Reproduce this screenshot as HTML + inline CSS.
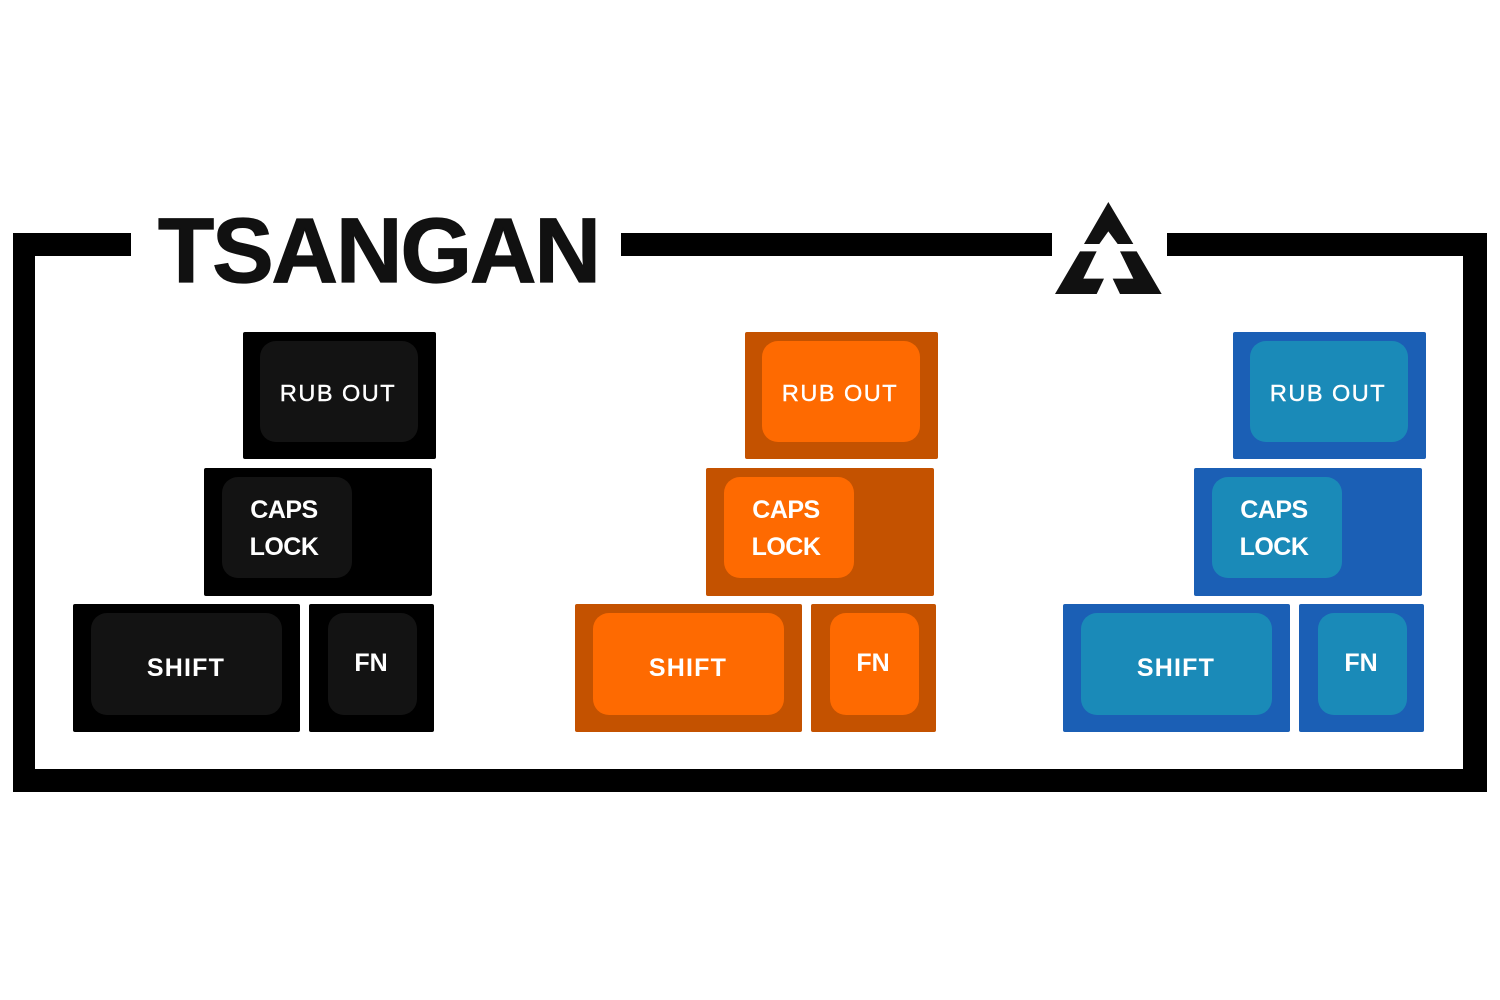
<!DOCTYPE html>
<html>
<head>
<meta charset="utf-8">
<style>
  html, body { margin:0; padding:0; }
  body { width:1500px; height:1000px; background:#fff; position:relative; overflow:hidden; font-family:"Liberation Sans", sans-serif; }
  .bar { position:absolute; background:#000; }
  .col { position:absolute; top:0; width:1500px; height:1000px; }
  .o { position:absolute; border-radius:2px; }
  .i { position:absolute; border-radius:16px; }
  .t { position:absolute; width:240px; text-align:center; color:#fff; white-space:nowrap; line-height:1; }
  .ro { -webkit-text-stroke:0.4px #fff; }
  .k .o { background:#000; }
  .k .i { background:#131313; }
  .r .o { background:#C45200; }
  .r .i { background:#FE6A01; }
  .b .o { background:#1B5FB5; }
  .b .i { background:#1A8AB8; }
</style>
</head>
<body>
  <!-- frame -->
  <div class="bar" style="left:13px;top:233px;width:118px;height:23px;"></div>
  <div class="bar" style="left:621px;top:233px;width:431px;height:23px;"></div>
  <div class="bar" style="left:1167px;top:233px;width:320px;height:23px;"></div>
  <div class="bar" style="left:13px;top:233px;width:22px;height:559px;"></div>
  <div class="bar" style="left:1463px;top:233px;width:24px;height:559px;"></div>
  <div class="bar" style="left:13px;top:769px;width:1474px;height:23px;"></div>

  <!-- title -->
  <div style="position:absolute;left:158px;top:205px;font-size:92px;font-weight:bold;line-height:1;color:#111;letter-spacing:-2px;white-space:nowrap;-webkit-text-stroke:1.2px #111;">TSANGAN</div>

  <!-- logo -->
  <svg style="position:absolute;left:0;top:0;" width="1500" height="1000">
    <g transform="translate(1050,198) scale(0.33333)" fill="#111">
      <polygon points="175,12 250,138 203,138 175,100 148,138 102,138"/>
      <polygon points="90,160 140,160 100,242 162,242 140,288 15,288"/>
      <polygon points="260,160 210,160 250,242 188,242 210,288 335,288"/>
    </g>
  </svg>

  <!-- columns -->
  <div class="col k" style="left:0;">
    <div class="o" style="left:243px;top:332px;width:193px;height:127px;"></div>
    <div class="i" style="left:260px;top:341px;width:158px;height:101px;"></div>
    <div class="o" style="left:204px;top:468px;width:228px;height:128px;"></div>
    <div class="i" style="left:222px;top:477px;width:130px;height:101px;"></div>
    <div class="o" style="left:73px;top:604px;width:227px;height:128px;"></div>
    <div class="i" style="left:91px;top:613px;width:191px;height:102px;"></div>
    <div class="o" style="left:309px;top:604px;width:125px;height:128px;"></div>
    <div class="i" style="left:328px;top:613px;width:89px;height:102px;"></div>
    <div class="t ro" style="left:218px;top:382px;font-size:23.5px;letter-spacing:1.5px;">RUB OUT</div>
    <div class="t" style="left:164px;top:498px;font-size:25px;font-weight:bold;letter-spacing:-0.5px;">CAPS</div>
    <div class="t" style="left:164px;top:535px;font-size:25px;font-weight:bold;letter-spacing:-0.5px;">LOCK</div>
    <div class="t" style="left:66px;top:656px;font-size:25px;font-weight:bold;letter-spacing:1.2px;">SHIFT</div>
    <div class="t" style="left:251px;top:651px;font-size:25px;font-weight:bold;">FN</div>
  </div>

  <div class="col r" style="left:502px;">
    <div class="o" style="left:243px;top:332px;width:193px;height:127px;"></div>
    <div class="i" style="left:260px;top:341px;width:158px;height:101px;"></div>
    <div class="o" style="left:204px;top:468px;width:228px;height:128px;"></div>
    <div class="i" style="left:222px;top:477px;width:130px;height:101px;"></div>
    <div class="o" style="left:73px;top:604px;width:227px;height:128px;"></div>
    <div class="i" style="left:91px;top:613px;width:191px;height:102px;"></div>
    <div class="o" style="left:309px;top:604px;width:125px;height:128px;"></div>
    <div class="i" style="left:328px;top:613px;width:89px;height:102px;"></div>
    <div class="t ro" style="left:218px;top:382px;font-size:23.5px;letter-spacing:1.5px;">RUB OUT</div>
    <div class="t" style="left:164px;top:498px;font-size:25px;font-weight:bold;letter-spacing:-0.5px;">CAPS</div>
    <div class="t" style="left:164px;top:535px;font-size:25px;font-weight:bold;letter-spacing:-0.5px;">LOCK</div>
    <div class="t" style="left:66px;top:656px;font-size:25px;font-weight:bold;letter-spacing:1.2px;">SHIFT</div>
    <div class="t" style="left:251px;top:651px;font-size:25px;font-weight:bold;">FN</div>
  </div>

  <div class="col b" style="left:990px;">
    <div class="o" style="left:243px;top:332px;width:193px;height:127px;"></div>
    <div class="i" style="left:260px;top:341px;width:158px;height:101px;"></div>
    <div class="o" style="left:204px;top:468px;width:228px;height:128px;"></div>
    <div class="i" style="left:222px;top:477px;width:130px;height:101px;"></div>
    <div class="o" style="left:73px;top:604px;width:227px;height:128px;"></div>
    <div class="i" style="left:91px;top:613px;width:191px;height:102px;"></div>
    <div class="o" style="left:309px;top:604px;width:125px;height:128px;"></div>
    <div class="i" style="left:328px;top:613px;width:89px;height:102px;"></div>
    <div class="t ro" style="left:218px;top:382px;font-size:23.5px;letter-spacing:1.5px;">RUB OUT</div>
    <div class="t" style="left:164px;top:498px;font-size:25px;font-weight:bold;letter-spacing:-0.5px;">CAPS</div>
    <div class="t" style="left:164px;top:535px;font-size:25px;font-weight:bold;letter-spacing:-0.5px;">LOCK</div>
    <div class="t" style="left:66px;top:656px;font-size:25px;font-weight:bold;letter-spacing:1.2px;">SHIFT</div>
    <div class="t" style="left:251px;top:651px;font-size:25px;font-weight:bold;">FN</div>
  </div>
</body>
</html>
